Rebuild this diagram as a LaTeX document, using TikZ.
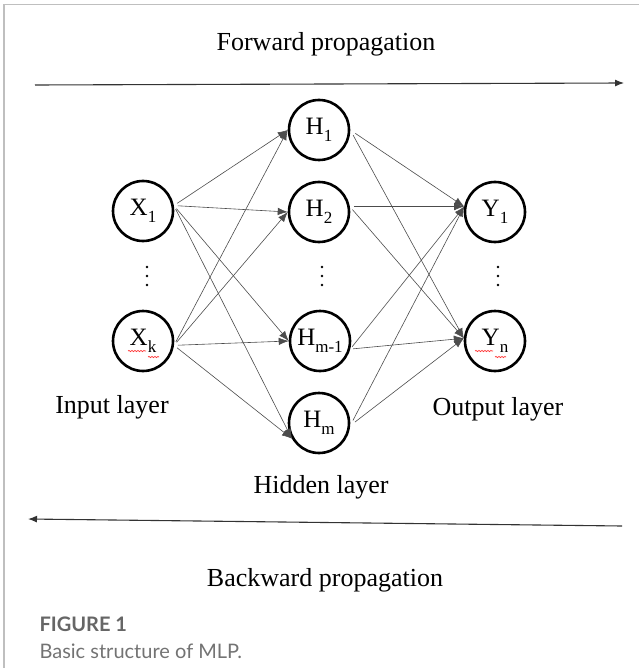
\documentclass[tikz,border=0pt]{standalone}
\usepackage{fontspec}
\setmainfont{Liberation Serif}
\newfontfamily\capfont{Lato}
\usetikzlibrary{arrows.meta,decorations.pathmorphing}
% lowered, smaller index after a neuron letter
\newcommand\sbs[1]{\raisebox{-0.28em}{\fontsize{17}{17}\selectfont #1}}
\begin{document}
\begin{tikzpicture}[x=1pt,y=-1pt,
  neuron/.style={circle,draw,line width=2.6pt,minimum size=60pt,inner sep=0pt,
    font=\fontsize{25}{25}\selectfont},
  link/.style={draw=black!70,line width=0.6pt,-{Latex[length=10pt,width=7.5pt]},shorten <=4pt},
  lbl/.style={font=\fontsize{26}{26}\selectfont,anchor=base},
  flow/.style={line width=1.1pt,draw=black!80,-{Latex[length=9pt,width=7pt]}},
  squiggle/.style={draw=red!80,line width=0.7pt,decorate,
    decoration={snake,amplitude=0.6pt,segment length=3pt}},
  dotmark/.style={fill=black}
]
\useasboundingbox (0,0) rectangle (639,668);
% panel frame
\draw[black!25,line width=1.5pt] (4,668) -- (4,4.5) -- (639,4.5);

% direction arrows and their titles
\node[lbl] (fwd) at (326,51) {Forward propagation};
\coordinate (fs) at (35,85);
\coordinate (fe) at (624,83);
\draw[flow] (fs) -- (fe);

\coordinate (bs) at (622,526);
\coordinate (be) at (28,519);
\draw[flow] (bs) -- (be);
\node[lbl] (bwd) at (325,586) {Backward propagation};

% neurons
\node[neuron] (X1)  at (143,211) {X\sbs{1}};
\node[neuron] (Xk)  at (143,341) {X\sbs{k}};
\node[neuron] (H1)  at (319,130) {H\sbs{1}};
\node[neuron] (H2)  at (319,212) {H\sbs{2}};
\node[neuron] (Hm1) at (320,341) {H\sbs{m-1}};
\node[neuron] (Hm)  at (319,423) {H\sbs{m}};
\node[neuron] (Y1)  at (495,212) {Y\sbs{1}};
\node[neuron] (Yn)  at (495,341) {Y\sbs{n}};

% vertical ellipses between neurons
\foreach \x in {147,322,498}
  \foreach \y in {267,276,285}
    \fill[dotmark] (\x,\y) circle (1.4);

% spell-check marks under the indices
\draw[squiggle] (128,351) -- (146,351);
\draw[squiggle] (148,357) -- (159,357);
\draw[squiggle] (475,351) -- (493,351);
\draw[squiggle] (495,357) -- (506,357);

% input -> hidden
\foreach \s/\sa in {X1/10,Xk/-8}
  \foreach \t/\ta in {H1/180,H2/180,Hm1/180,Hm/210}
    \draw[link] (\s.\sa) -- (\t.\ta);

% hidden -> output
\foreach \s/\sa/\sh in {H1/0/6,H2/10/4,Hm1/-15/3,Hm/-5/6}
  \foreach \t/\ta in {Y1/170,Yn/175}
    \draw[link,shorten <=\sh pt] (\s.\sa) -- (\t.\ta);

% layer titles
\node[lbl] (inl)  at (112,413) {Input layer};
\node[lbl] (outl) at (498,415) {Output layer};
\node[lbl] (hidl) at (321,493) {Hidden layer};

% caption
\node[anchor=base west,font=\capfont\bfseries\fontsize{20}{20}\selectfont,text=black!60]
  (fig) at (36,631) {FIGURE 1};
\node[anchor=base west,font=\capfont\fontsize{20}{20}\selectfont,text=black!55]
  (cap) at (36,658) {Basic structure of MLP.};
\end{tikzpicture}
\end{document}
